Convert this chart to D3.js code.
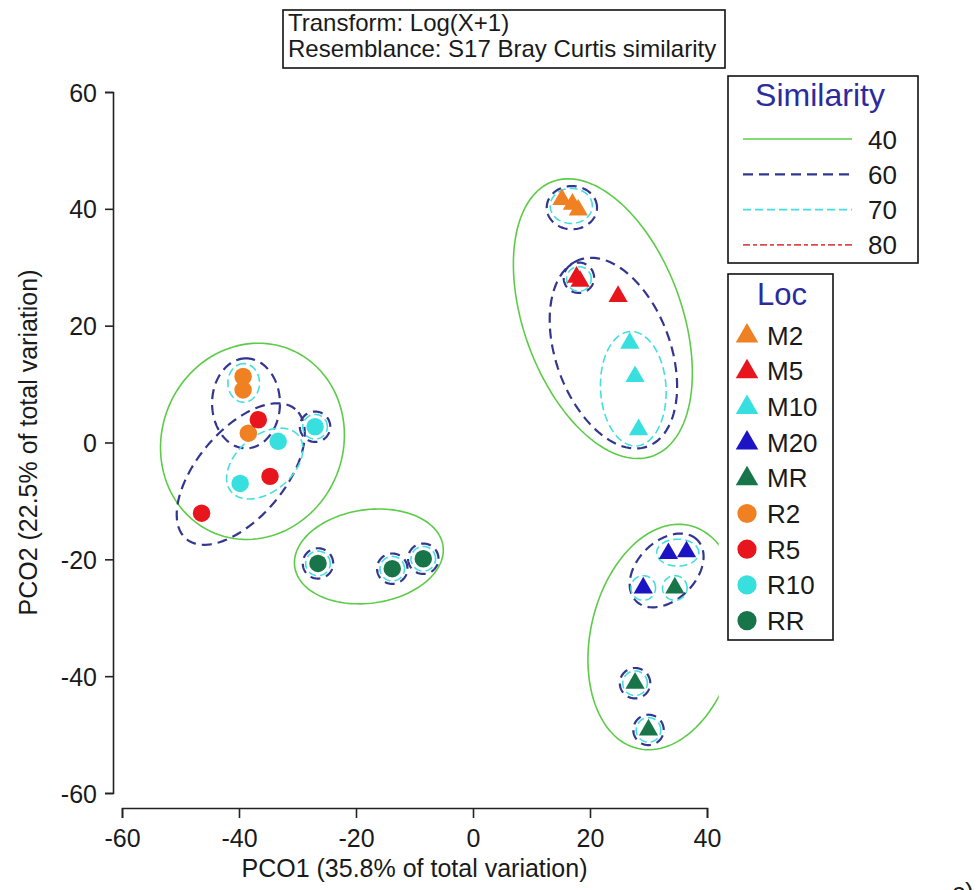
<!DOCTYPE html>
<html>
<head>
<meta charset="utf-8">
<script src="https://cdn.jsdelivr.net/npm/d3@7/dist/d3.min.js"></script>
<style>
  html, body { margin: 0; padding: 0; background: #fff; }
  svg { display: block; font-family: "Liberation Sans", Arial, sans-serif; }
</style>
</head>
<body>
<svg id="chart" width="976" height="890"></svg>
<script>
// ---- Data -----------------------------------------------------------
const locNames  = ["M2", "M5", "M10", "M20", "MR", "R2", "R5", "R10", "RR"];
const locShapes = ["triangle", "triangle", "triangle", "triangle", "triangle", "circle", "circle", "circle", "circle"];
const locColors = ["#f08122", "#e8161c", "#38dfdf", "#1c14c4", "#18754a", "#f08122", "#e8161c", "#38dfdf", "#18754a"];

// Sample scores on the first two principal coordinates
const sampleLoc = ["R2", "R2", "R2", "R5", "R5", "R5", "R10", "R10", "R10", "RR", "RR", "RR",
                   "M2", "M2", "M2", "M5", "M5", "M5", "M10", "M10", "M10",
                   "M20", "M20", "M20", "MR", "MR", "MR"];
const pco1 = [-39.3, -39.3, -38.4, -36.7, -34.7, -46.4, -33.3, -27.0, -39.8, -26.5, -13.8, -8.5,
              15.2, 18.0, 17.0, 17.7, 18.3, 24.8, 26.8, 27.7, 28.3,
              33.4, 36.5, 29.1, 34.5, 27.7, 30.0];
const pco2 = [11.3, 9.0, 1.6, 3.9, -5.8, -12.1, 0.2, 2.7, -7.0, -20.7, -21.6, -19.9,
              41.6, 39.8, 40.8, 28.3, 27.6, 25.0, 17.0, 11.3, 2.2,
              -19.0, -18.7, -24.9, -24.9, -41.2, -49.2];

// Similarity contours: [centre PCO1, centre PCO2, semi-axis a, semi-axis b, angle of a (deg)]
const contour40 = [
  [-37.7, 0.2, 17, 15.5, 68],
  [-17.8, -19.5, 12.8, 8.0, 8],
  [22.2, 21.2, 25, 13.5, 110],
  [32.6, -33.3, 19.6, 12.5, 77]
];
const contour60 = [
  [-38.8, 6.7, 7.7, 5.8, 90],
  [-39.7, -5.4, 14.5, 7.5, 50],
  [-27.0, 2.7, 2.6, 2.6, 0],
  [-26.5, -20.7, 2.6, 2.6, 0],
  [-13.8, -21.6, 2.6, 2.6, 0],
  [-8.5, -19.9, 2.6, 2.6, 0],
  [16.9, 40.2, 4.3, 3.7, 0],
  [24.0, 15.3, 17, 9.8, 110],
  [18.1, 28.2, 2.6, 2.6, 0],
  [33.1, -21.9, 7.4, 5.0, 45],
  [27.7, -41.2, 2.6, 2.6, 0],
  [30.0, -49.2, 2.6, 2.6, 0]
];
const contour70 = [
  [-39.2, 10.2, 3.3, 2.7, 90],
  [-35.6, -3.6, 7.5, 4.8, 40],
  [-27.0, 2.7, 2.1, 2.1, 0],
  [-26.5, -20.7, 2.1, 2.1, 0],
  [-13.8, -21.6, 2.1, 2.1, 0],
  [-8.5, -19.9, 2.1, 2.1, 0],
  [16.8, 40.5, 3.6, 3.0, 0],
  [27.4, 9.2, 9.8, 5.6, 93],
  [18.1, 28.0, 2.1, 2.1, 0],
  [35.0, -18.85, 3.6, 2.3, 0],
  [29.1, -24.9, 2.1, 2.1, 0],
  [34.5, -24.9, 2.1, 2.1, 0],
  [27.7, -41.2, 2.1, 2.1, 0],
  [30.0, -49.2, 2.1, 2.1, 0]
];
const contour80 = [];

const simLevels = ["40", "60", "70", "80"];
const xTicks = [-60, -40, -20, 0, 20, 40];
const yTicks = [-60, -40, -20, 0, 20, 40, 60];
const noteLines = ["Transform: Log(X+1)", "Resemblance: S17 Bray Curtis similarity"];

// ---- Styles ---------------------------------------------------------
const levelStyle = {
  "40": { stroke: "#5ccc48", width: 1.6, dash: null },
  "60": { stroke: "#33368f", width: 2.2, dash: "10,6" },
  "70": { stroke: "#45dede", width: 1.6, dash: "8,4" },
  "80": { stroke: "#dd4a4a", width: 1.6, dash: "7,3,4,3" }
};
const titleBlue = "#2b2b9e";
const textCol = "#1a1a1a";

// ---- Scales & axes --------------------------------------------------
const svg = d3.select("#chart");
const x = d3.scaleLinear().domain([-60, 40]).range([122, 707]);
const y = d3.scaleLinear().domain([-60, 60]).range([793, 92]);

const yAxis = svg.append("g")
  .attr("transform", "translate(113,0)")
  .call(d3.axisLeft(y).tickValues(yTicks).tickSize(8).tickSizeOuter(8).tickPadding(8).tickFormat(d3.format("d")));
const xAxis = svg.append("g")
  .attr("transform", "translate(0,808)")
  .call(d3.axisBottom(x).tickValues(xTicks).tickSize(10).tickSizeOuter(10).tickPadding(6).tickFormat(d3.format("d")));

[yAxis, xAxis].forEach(g => {
  g.selectAll("path.domain").attr("stroke", "#222").attr("stroke-width", 1.6);
  g.selectAll(".tick line").attr("stroke", "#222").attr("stroke-width", 1.6);
  g.selectAll(".tick text")
    .attr("fill", textCol)
    .style("font-size", "25px")
    .style("font-family", "'Liberation Sans', Arial, sans-serif");
});
yAxis.selectAll(".tick text").attr("dy", "0.36em");
xAxis.selectAll(".tick text").attr("dy", "0.9em").text(d => d < 0 ? "-" + Math.abs(d) : d);
yAxis.selectAll(".tick text").text(d => d < 0 ? "-" + Math.abs(d) : d);

svg.append("text")
  .attr("x", (x(-60) + x(40)) / 2).attr("y", 877)
  .attr("text-anchor", "middle").attr("fill", textCol)
  .style("font-size", "25px")
  .text("PCO1 (35.8% of total variation)");
svg.append("text")
  .attr("transform", `translate(37,${(y(60) + y(-60)) / 2}) rotate(-90)`)
  .attr("text-anchor", "middle").attr("fill", textCol)
  .style("font-size", "25px")
  .text("PCO2 (22.5% of total variation)");

// ---- Contours -------------------------------------------------------
svg.append("defs").append("clipPath").attr("id", "plotClip")
  .append("rect").attr("x", 0).attr("y", 0).attr("width", x(42)).attr("height", 890);

function ellipsePoints(c) {
  const [cx, cy, a, b, deg] = c;
  const t = deg * Math.PI / 180;
  return d3.range(0, 360, 3).map(k => {
    const u = k * Math.PI / 180;
    return [cx + a * Math.cos(u) * Math.cos(t) - b * Math.sin(u) * Math.sin(t),
            cy + a * Math.cos(u) * Math.sin(t) + b * Math.sin(u) * Math.cos(t)];
  });
}
const ellipseLine = d3.line().x(d => x(d[0])).y(d => y(d[1])).curve(d3.curveLinearClosed);

const contourG = svg.append("g").attr("clip-path", "url(#plotClip)");
[["40", contour40], ["60", contour60], ["70", contour70], ["80", contour80]].forEach(([lvl, list]) => {
  const st = levelStyle[lvl];
  contourG.append("g").selectAll("path").data(list).join("path")
    .attr("d", d => ellipseLine(ellipsePoints(d)))
    .attr("fill", "none")
    .attr("stroke", st.stroke)
    .attr("stroke-width", st.width)
    .attr("stroke-dasharray", st.dash);
});

// ---- Points ---------------------------------------------------------
const shapeOf = n => locShapes[locNames.indexOf(n)];
const colorOf = n => locColors[locNames.indexOf(n)];
const symbolPath = (shape, size) =>
  d3.symbol().type(shape === "circle" ? d3.symbolCircle : d3.symbolTriangle).size(size)();

svg.append("g").selectAll("path").data(d3.range(sampleLoc.length)).join("path")
  .attr("transform", i => `translate(${x(pco1[i])},${y(pco2[i])})`)
  .attr("d", i => shapeOf(sampleLoc[i]) === "circle" ? symbolPath("circle", 240) : symbolPath("triangle", 160))
  .attr("fill", i => colorOf(sampleLoc[i]));

// ---- Note box -------------------------------------------------------
const note = svg.append("g");
note.append("rect").attr("x", 283).attr("y", 10).attr("width", 442).attr("height", 58)
  .attr("fill", "#fff").attr("stroke", "#111").attr("stroke-width", 1.6);
note.selectAll("text").data(noteLines).join("text")
  .attr("x", 288).attr("y", (d, i) => 31 + i * 26)
  .attr("fill", textCol).style("font-size", "24px").text(d => d);

// ---- Similarity legend ---------------------------------------------
const simG = svg.append("g");
simG.append("rect").attr("x", 728).attr("y", 76).attr("width", 190).attr("height", 187)
  .attr("fill", "#fff").attr("stroke", "#111").attr("stroke-width", 1.6);
simG.append("text").attr("x", 820).attr("y", 106).attr("text-anchor", "middle")
  .attr("fill", titleBlue).style("font-size", "32px").text("Similarity");
simLevels.forEach((lvl, i) => {
  const yy = 139 + i * 35.3;
  const st = levelStyle[lvl];
  simG.append("line").attr("x1", 743).attr("x2", 852).attr("y1", yy).attr("y2", yy)
    .attr("stroke", st.stroke).attr("stroke-width", st.width)
    .attr("stroke-dasharray", st.dash);
  simG.append("text").attr("x", 868).attr("y", yy + 9.5)
    .attr("fill", textCol).style("font-size", "26px").text(lvl);
});

// ---- Loc legend -----------------------------------------------------
const locG = svg.append("g");
locG.append("rect").attr("x", 728).attr("y", 274).attr("width", 105).attr("height", 366)
  .attr("fill", "#fff").attr("stroke", "#111").attr("stroke-width", 1.6);
locG.append("text").attr("x", 782).attr("y", 305).attr("text-anchor", "middle")
  .attr("fill", titleBlue).style("font-size", "31px").text("Loc");
locNames.forEach((n, i) => {
  const yy = 335 + i * 35.7;
  locG.append("path")
    .attr("transform", `translate(747,${yy + (locShapes[i] === "triangle" ? 1 : 0)})`)
    .attr("d", locShapes[i] === "circle" ? symbolPath("circle", 290) : symbolPath("triangle", 220))
    .attr("fill", locColors[i]);
  locG.append("text").attr("x", 767).attr("y", yy + 9.5)
    .attr("fill", textCol).style("font-size", "26px").text(n);
});

// Panel letter at the lower right corner
svg.append("text").attr("x", 952).attr("y", 901)
  .attr("fill", textCol).style("font-size", "26px").text("c)");
</script>
</body>
</html>
